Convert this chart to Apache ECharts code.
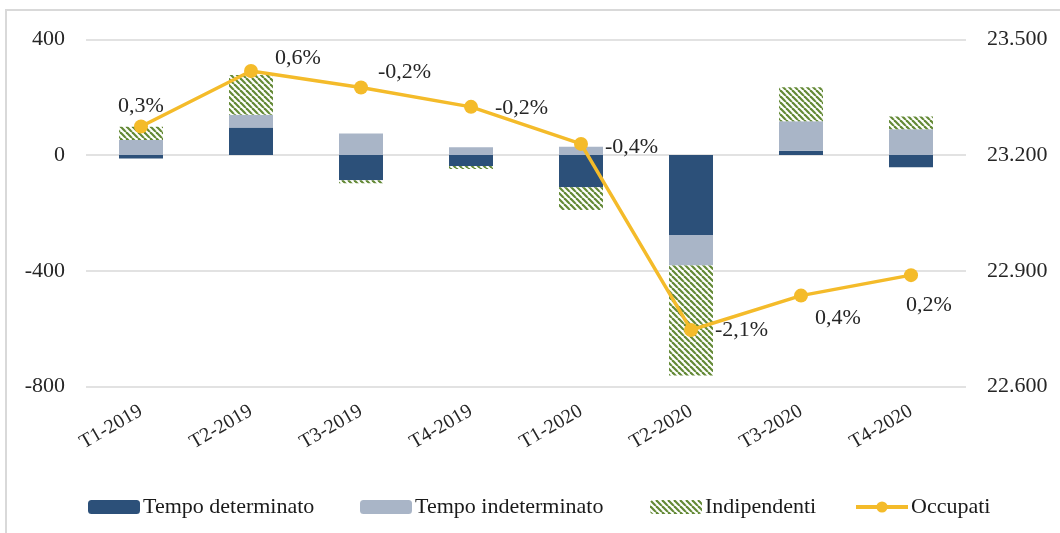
<!DOCTYPE html>
<html>
<head>
<meta charset="utf-8">
<script src="https://cdn.jsdelivr.net/npm/echarts@6/dist/echarts.min.js"></script>
<style>
  html, body { margin: 0; padding: 0; background: #fff; }
  #main { width: 1060px; height: 533px; }
</style>
</head>
<body>
<div id="main"></div>
<script>
// dati
var categories = ['T1-2019', 'T2-2019', 'T3-2019', 'T4-2019', 'T1-2020', 'T2-2020', 'T3-2020', 'T4-2020'];
var tempoDeterminato = [-12, 95, -87, -38, -111, -276, 15, -42];
var tempoIndeterminato = [52, 44, 75, 27, 29, -105, 102, 89];
var indipendenti = [46, 138, -10, -10, -79, -380, 117, 44];
var occupati = [23274, 23418, 23375, 23325, 23229, 22747, 22836, 22889];
var variazioni = ['0,3%', '0,6%', '-0,2%', '-0,2%', '-0,4%', '-2,1%', '0,4%', '0,2%'];

var FONT = '"Liberation Serif", "DejaVu Serif", serif';

// tratteggio verde per "Indipendenti"
function hatchPattern () {
  var c = document.createElement('canvas');
  c.width = 6;
  c.height = 6;
  var ctx = c.getContext('2d');
  ctx.fillStyle = '#ffffff';
  ctx.fillRect(0, 0, 6, 6);
  ctx.strokeStyle = '#638935';
  ctx.lineWidth = 2.2;
  [-6, 0, 6].forEach(function (k) {
    ctx.beginPath();
    ctx.moveTo(k, 0);
    ctx.lineTo(k + 6, 6);
    ctx.stroke();
  });
  return { image: c, repeat: 'repeat' };
}

// posizione etichette per ciascun punto
var labelPos = [
  { position: 'top', distance: 2, offset: [0, 0] },
  { position: 'right', distance: 17, offset: [0, -13] },
  { position: 'right', distance: 10, offset: [0, -15] },
  { position: 'right', distance: 17, offset: [0, 1] },
  { position: 'right', distance: 17, offset: [0, 3] },
  { position: 'right', distance: 17, offset: [0, 0] },
  { position: 'bottom', distance: 5, offset: [37, 0] },
  { position: 'bottom', distance: 12, offset: [18, 0] }
];

// una legenda per voce, così le posizioni corrispondono
function legendItem (name, left) {
  return {
    left: left,
    top: 491,
    itemWidth: 52,
    itemHeight: 14,
    lineStyle: { width: 4 },
    textStyle: { fontFamily: FONT, fontSize: 22, color: '#1a1a1a', padding: [0, 0, 0, -2] },
    data: [name]
  };
}

function getChart () {
  var myChart = echarts.init(document.getElementById('main'));
  var hatch = hatchPattern();

  var lineData = occupati.map(function (v, i) {
    return {
      value: v,
      label: {
        show: true,
        formatter: variazioni[i],
        position: labelPos[i].position,
        distance: labelPos[i].distance,
        offset: labelPos[i].offset
      }
    };
  });

  var option = {
    animation: false,
    textStyle: { fontFamily: FONT },
    graphic: [{
      type: 'rect',
      shape: { x: 6, y: 10, width: 1100, height: 600 },
      style: { fill: 'none', stroke: '#d9d9d9', lineWidth: 2 },
      silent: true
    }],
    grid: {
      left: 86,
      right: 94,
      top: 39.3,
      bottom: 146.3
    },
    legend: [
      legendItem('Tempo determinato', 83),
      legendItem('Tempo indeterminato', 355),
      legendItem('Indipendenti', 645),
      legendItem('Occupati', 849)
    ],
    xAxis: {
      type: 'category',
      data: categories,
      axisLine: { show: false, onZero: false },
      axisTick: { show: false },
      axisLabel: {
        interval: 0,
        rotate: 30,
        margin: 23,
        fontFamily: FONT,
        fontSize: 20,
        color: '#262626'
      }
    },
    yAxis: [
      {
        type: 'value',
        min: -800,
        max: 400,
        interval: 400,
        axisLine: { show: false },
        axisTick: { show: false },
        axisLabel: { fontFamily: FONT, fontSize: 22, color: '#262626', margin: 21 },
        splitLine: { lineStyle: { color: '#d9d9d9', width: 1.5 } }
      },
      {
        type: 'value',
        min: 22600,
        max: 23500,
        interval: 300,
        axisLine: { show: false },
        axisTick: { show: false },
        axisLabel: {
          fontFamily: FONT,
          fontSize: 22,
          color: '#262626',
          margin: 21,
          formatter: function (v) {
            return String(v).replace(/\B(?=(\d{3})+(?!\d))/g, '.');
          }
        },
        splitLine: { show: false }
      }
    ],
    series: [
      {
        name: 'Tempo determinato',
        type: 'bar',
        stack: 'tot',
        barWidth: '40%',
        itemStyle: { color: '#2c5079' },
        data: tempoDeterminato
      },
      {
        name: 'Tempo indeterminato',
        type: 'bar',
        stack: 'tot',
        itemStyle: { color: '#a9b5c7' },
        data: tempoIndeterminato
      },
      {
        name: 'Indipendenti',
        type: 'bar',
        stack: 'tot',
        itemStyle: { color: hatch },
        data: indipendenti
      },
      {
        name: 'Occupati',
        type: 'line',
        yAxisIndex: 1,
        symbol: 'circle',
        symbolSize: 14,
        z: 5,
        lineStyle: { color: '#f4bb2a', width: 3.5 },
        itemStyle: { color: '#f4bb2a' },
        label: {
          fontFamily: FONT,
          fontSize: 22,
          color: '#262626'
        },
        data: lineData
      }
    ]
  };

  myChart.setOption(option);

  window.addEventListener('resize', function () {
    myChart.resize();
  });
}

getChart();
</script>
</body>
</html>
